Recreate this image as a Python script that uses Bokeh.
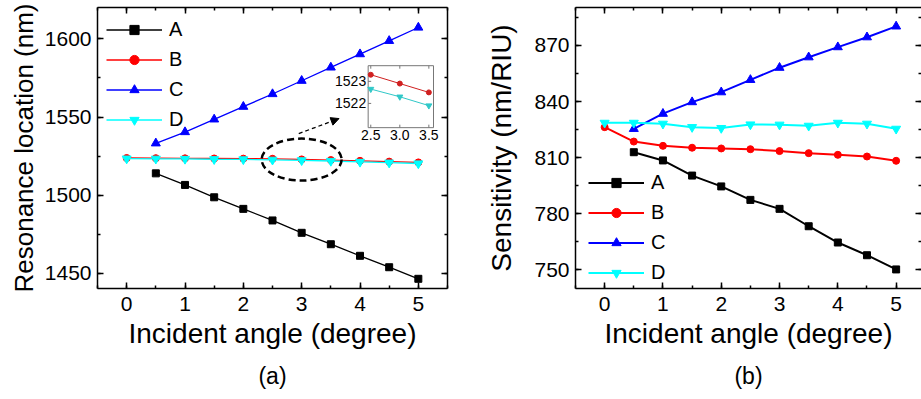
from bokeh.plotting import figure
from bokeh.models import (Range1d, LinearAxis, SingleIntervalTicker, Legend, LegendItem,
                          Title, Arrow, NormalHead)
from bokeh.layouts import row
from bokeh.embed import file_html
from bokeh.resources import INLINE
from bokeh.core.properties import value

FONT = "Liberation Sans"

# ---------------- data ----------------
angles_all = [0, 0.5, 1, 1.5, 2, 2.5, 3, 3.5, 4, 4.5, 5]
angles_ac = [0.5, 1, 1.5, 2, 2.5, 3, 3.5, 4, 4.5, 5]

res_A = [1514.0, 1506.6, 1498.7, 1491.3, 1483.9, 1476.0, 1468.7, 1461.3, 1454.0, 1446.6]
res_B = [1523.8, 1523.7, 1523.6, 1523.5, 1523.4, 1523.3, 1522.9, 1522.5, 1522.0, 1521.5, 1521.0]
res_C = [1533.2, 1540.4, 1548.5, 1556.6, 1564.7, 1573.2, 1581.7, 1590.2, 1598.7, 1607.2]
res_D = [1523.4, 1523.3, 1523.2, 1523.0, 1522.9, 1522.65, 1522.3, 1521.9, 1521.3, 1520.8, 1520.3]

sens_A = [812.9, 808.5, 800.4, 794.6, 787.4, 782.6, 773.3, 764.6, 757.8, 750.2]
sens_B = [826.3, 818.6, 816.3, 815.3, 814.9, 814.5, 813.5, 812.4, 811.5, 810.6, 808.3]
sens_C = [825.4, 833.5, 839.7, 845.0, 851.6, 858.1, 863.7, 869.1, 874.4, 880.2]
sens_D = [828.6, 828.6, 828.1, 826.3, 825.8, 827.7, 827.6, 827.0, 828.6, 828.1, 825.4]

names = ["A", "B", "C", "D"]
colors = ["#000000", "#FF0000", "#0000FF", "#00FFFF"]
markers = ["square", "circle", "triangle", "inverted_triangle"]

inset_xticks = [2.5, 3.0, 3.5]
inset_xtick_labels = ["2.5", "3.0", "3.5"]
inset_yticks = [1523, 1522]
inset_ytick_labels = ["1523", "1522"]


def style_axis(ax, labels=True, show_line=True):
    ax.axis_line_width = 1.5
    ax.axis_line_color = "black" if show_line else None
    ax.major_tick_in = 6
    ax.major_tick_out = 0
    ax.minor_tick_in = 3
    ax.minor_tick_out = 0
    ax.major_tick_line_width = 1.5
    ax.minor_tick_line_width = 1.5
    ax.major_tick_line_color = "black"
    ax.minor_tick_line_color = "black"
    ax.major_label_text_font = FONT
    ax.major_label_text_font_size = "21px"
    ax.major_label_text_color = "black"
    ax.major_label_standoff = 6
    ax.axis_label_text_font = FONT
    ax.axis_label_text_font_size = "28px"
    ax.axis_label_text_font_style = "normal"
    ax.axis_label_text_color = "black"
    ax.axis_label_standoff = 2
    if not labels:
        ax.major_label_text_font_size = "0px"
        ax.major_label_text_color = None
        ax.major_label_standoff = 0
        ax.axis_label_standoff = 0


def make_panel(width, min_left, min_right, x_end, y_range, y_interval, ylabel, ylabel_size,
               ylabel_standoff, xa, ya, xb, line_w, legend_loc, tag, right_line=True):
    p = figure(width=width, height=399, x_range=Range1d(-0.5, x_end),
               y_range=Range1d(*y_range), output_backend="svg", toolbar_location=None,
               x_axis_location=None, y_axis_location=None, title=None,
               min_border_left=min_left, min_border_right=min_right,
               min_border_top=7, min_border_bottom=111)
    p.grid.visible = False
    p.outline_line_color = None
    p.background_fill_color = "white"
    p.border_fill_color = "white"

    xt = SingleIntervalTicker(interval=1, num_minor_ticks=2)
    yt = SingleIntervalTicker(interval=y_interval, num_minor_ticks=2)

    bx = LinearAxis(ticker=xt, axis_label="Incident angle (degree)")
    style_axis(bx)
    bx.major_label_standoff = 8
    bx.axis_label_standoff = 4
    p.add_layout(bx, "below")
    ly = LinearAxis(ticker=yt, axis_label=ylabel)
    style_axis(ly)
    ly.axis_label_text_font_size = ylabel_size
    ly.axis_label_standoff = ylabel_standoff
    p.add_layout(ly, "left")
    tx = LinearAxis(ticker=xt)
    style_axis(tx, labels=False)
    p.add_layout(tx, "above")
    ry = LinearAxis(ticker=yt)
    style_axis(ry, labels=False, show_line=right_line)
    p.add_layout(ry, "right")

    data = [(xa, ya[0]), (xb, ya[1]), (xa, ya[2]), (xb, ya[3])]
    items = []
    for (xs, ys), nm, c, m in zip(data, names, colors, markers):
        l = p.line(xs, ys, line_color=c, line_width=line_w)
        sz = 9 if "triangle" in m else 7
        s = p.scatter(xs, ys, marker=m, size=sz, fill_color=c, line_color=c)
        items.append(LegendItem(label=nm, renderers=[l, s]))

    leg = Legend(items=items, location=legend_loc, label_text_font=FONT,
                 label_text_font_size="20px", label_text_color="black",
                 glyph_width=56, glyph_height=23, label_height=23, spacing=7,
                 padding=5, margin=0, label_standoff=7,
                 border_line_color=None, background_fill_alpha=0)
    p.add_layout(leg)

    p.add_layout(Title(text=tag, align="center", text_font=FONT, text_font_size="23px",
                       text_font_style="normal", text_color="black", standoff=19), "below")
    return p


pa = make_panel(460, 97, 13, 5.5, (1440.4, 1620), 50, "Resonance location (nm)", "26px", 3,
                angles_ac, [res_A, res_B, res_C, res_D], angles_all, 1.3,
                (9, 157), "(a)")
pb = make_panel(461, 115, 0, 5.435, (740, 890.3), 30, "Sensitivity (nm/RIU)", "28px", 14,
                angles_ac, [sens_A, sens_B, sens_C, sens_D], angles_all, 2,
                (13, 4), "(b)", right_line=False)

# ---------- zoom marker on panel (a) ----------
pa.ellipse(x=3.0, y=1522.8, width=1.37, height=26.8, fill_color=None,
           line_color="black", line_width=2.5, line_dash="7 4")
pa.add_layout(Arrow(end=NormalHead(size=8, fill_color="black", line_color="black"),
                    x_start=2.95, y_start=1539.4, x_end=3.64, y_end=1549,
                    line_color="black", line_width=1.3, line_dash="4 3"))

# ---------- inset on panel (a) ----------
ins_xs = Range1d(2.455, 3.58)
ins_ys = Range1d(1520.9, 1523.71)
sub = pa.subplot(x_source=ins_xs, y_source=ins_ys,
                 x_target=Range1d(4.14, 5.26), y_target=Range1d(1543.2, 1582.8))
sub.quad(left=[ins_xs.start], right=[ins_xs.end], bottom=[ins_ys.start], top=[ins_ys.end],
         fill_color="white", line_color="#777777", line_width=1)

for ys, c, m in [(res_B, "#D02020", "circle"), (res_D, "#30C8C8", "inverted_triangle")]:
    sel = [(x, y) for x, y in zip(angles_all, ys) if 2.5 <= x <= 3.5]
    sx = [a for a, _ in sel]
    sy = [b for _, b in sel]
    sub.line(sx, sy, line_color=c, line_width=1)
    sub.scatter(sx, sy, marker=m, size=5 if m == "circle" else 6, fill_color=c, line_color=c)

dy = (ins_ys.end - ins_ys.start) * 3 / 62
dx = (ins_xs.end - ins_xs.start) * 3 / 65
sub.segment(x0=inset_xticks, x1=inset_xticks, y0=[ins_ys.start] * 3,
            y1=[ins_ys.start + dy] * 3, line_color="#777777")
sub.segment(x0=inset_xticks, x1=inset_xticks, y0=[ins_ys.end] * 3,
            y1=[ins_ys.end - dy] * 3, line_color="#777777")
sub.segment(x0=[ins_xs.start] * 2, x1=[ins_xs.start + dx] * 2, y0=inset_yticks,
            y1=inset_yticks, line_color="#777777")
sub.text(x=inset_xticks, y=[ins_ys.start] * 3, text=inset_xtick_labels,
         text_align="center", text_baseline="top", y_offset=2,
         text_font=value(FONT), text_font_size="14px", text_color="black")
sub.text(x=[ins_xs.start] * 2, y=inset_yticks, text=inset_ytick_labels,
         text_align="right", text_baseline="middle", x_offset=-2,
         text_font=value(FONT), text_font_size="14px", text_color="black")

layout = row(pa, pb, spacing=0)
open("out.html", "w").write(file_html(layout, INLINE))
